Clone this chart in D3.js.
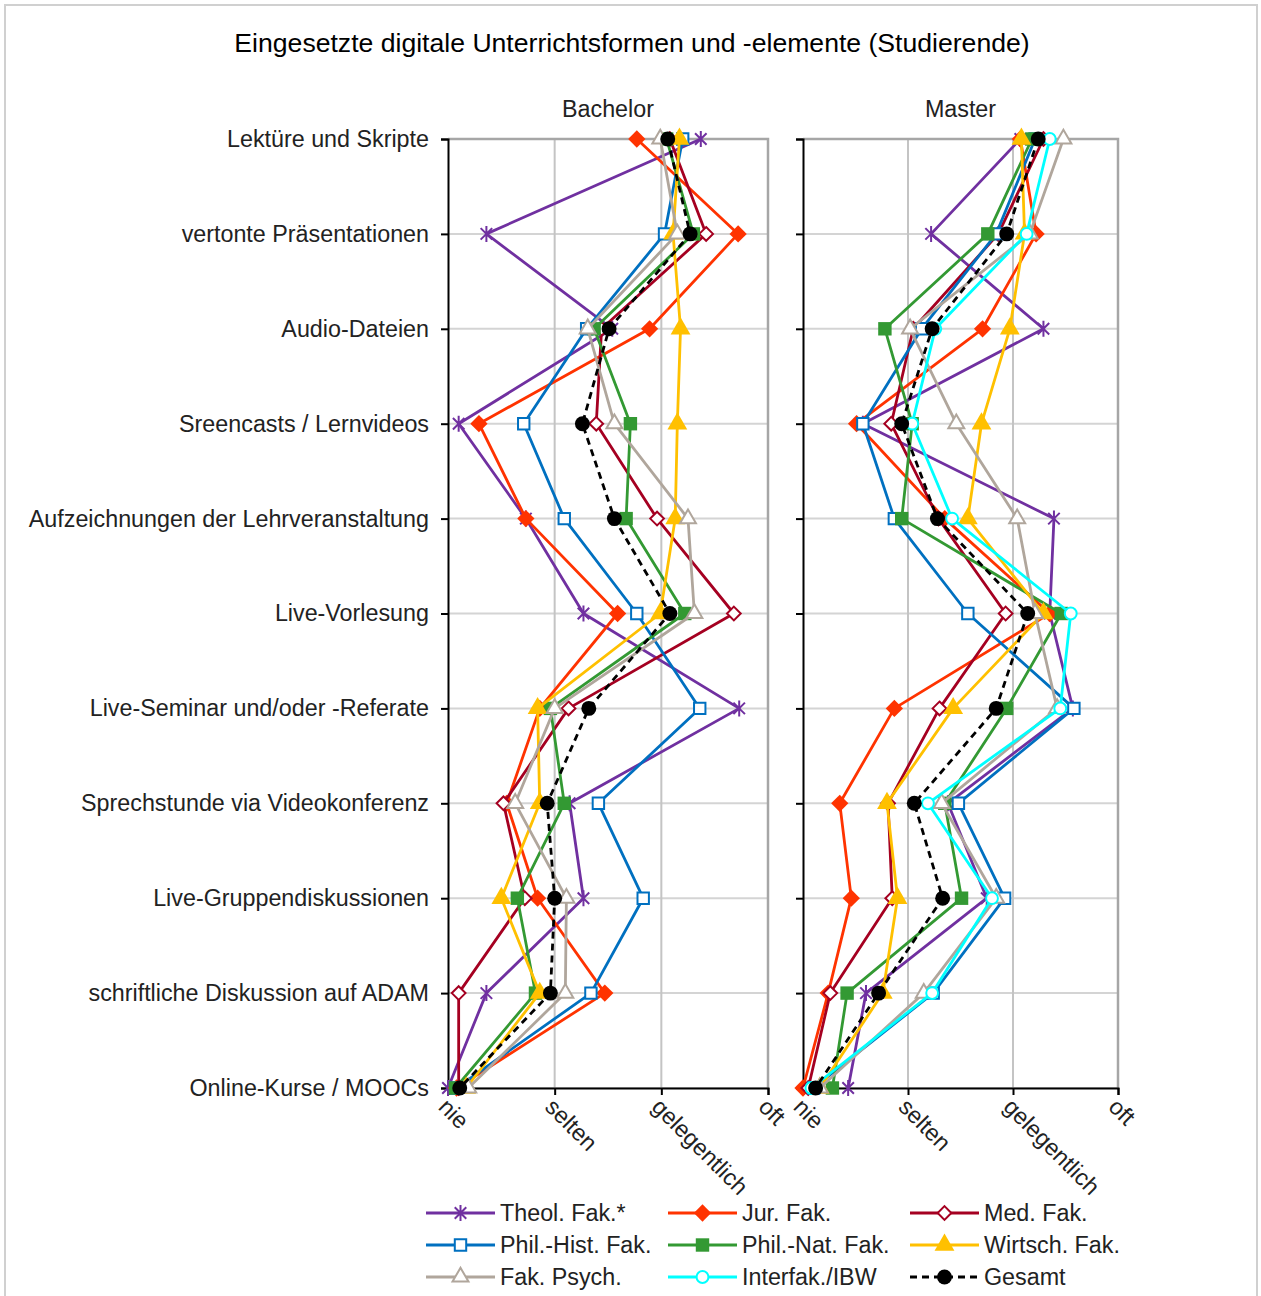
<!doctype html>
<html>
<head>
<meta charset="utf-8">
<script src="https://cdn.jsdelivr.net/npm/d3@7"></script>
<style>
  body { margin: 0; background: #fff; }
  svg { font-family: "Liberation Sans", Arial, sans-serif; }
</style>
</head>
<body>
<svg id="chart" width="1261" height="1296"></svg>
<script>
const categories = [
  "Lektüre und Skripte", "vertonte Präsentationen", "Audio-Dateien",
  "Sreencasts / Lernvideos", "Aufzeichnungen der Lehrveranstaltung",
  "Live-Vorlesung", "Live-Seminar und/oder -Referate",
  "Sprechstunde via Videokonferenz", "Live-Gruppendiskussionen",
  "schriftliche Diskussion auf ADAM", "Online-Kurse / MOOCs"
];
const levels = ["nie", "selten", "gelegentlich", "oft"];
const seriesNames = ["Theol. Fak.*", "Jur. Fak.", "Med. Fak.", "Phil.-Hist. Fak.",
  "Phil.-Nat. Fak.", "Wirtsch. Fak.", "Fak. Psych.", "Interfak./IBW", "Gesamt"];

// Bachelor (1 = nie ... 4 = oft)
const theolBachelor    = [3.37, 1.36, 2.54, 1.10, 1.73, 2.27, 3.73, 2.14, 2.27, 1.36, 1.00];
const jurBachelor      = [2.77, 3.72, 2.89, 1.29, 1.73, 2.59, 1.86, 1.55, 1.84, 2.47, 1.08];
const medBachelor      = [3.08, 3.42, 2.44, 2.39, 2.96, 3.68, 2.13, 1.52, 1.72, 1.10, 1.10];
const philHistBachelor = [3.20, 3.03, 2.30, 1.71, 2.09, 2.77, 3.36, 2.41, 2.83, 2.34, 1.08];
const philNatBachelor  = [3.05, 3.30, 2.37, 2.71, 2.67, 3.22, 1.96, 2.09, 1.65, 1.82, 1.07];
const wirtschBachelor  = [3.17, 3.11, 3.18, 3.15, 3.13, 2.99, 1.84, 1.86, 1.50, 1.86, 1.17];
const psychBachelor    = [2.99, 3.15, 2.31, 2.56, 3.25, 3.31, 2.00, 1.63, 2.11, 2.10, 1.19];
const gesamtBachelor   = [3.06, 3.27, 2.51, 2.26, 2.56, 3.08, 2.32, 1.93, 2.00, 1.96, 1.11];

// Master
const theolMaster    = [3.07, 2.22, 3.29, 1.57, 3.39, 3.35, 3.57, 2.38, 2.75, 1.60, 1.43];
const jurMaster      = [3.07, 3.22, 2.71, 1.51, 2.35, 3.35, 1.87, 1.35, 1.46, 1.24, 1.00];
const medMaster      = [3.29, 2.86, 2.05, 1.84, 2.29, 2.93, 2.30, 1.81, 1.85, 1.26, 1.05];
const philHistMaster = [3.21, 2.84, 2.13, 1.57, 1.87, 2.57, 3.58, 2.48, 2.92, 2.24, 1.10];
const philNatMaster  = [3.18, 2.76, 1.78, 2.04, 1.94, 3.46, 2.94, 2.35, 2.51, 1.42, 1.28];
const wirtschMaster  = [3.08, 3.11, 2.97, 2.70, 2.57, 3.29, 2.43, 1.80, 1.90, 1.76, 1.16];
const psychMaster    = [3.48, 3.16, 2.02, 2.46, 3.04, 3.21, 3.42, 2.32, 2.84, 2.15, 1.16];
const interfakMaster = [3.35, 3.13, 2.26, 2.04, 2.42, 3.55, 3.45, 2.19, 2.80, 2.23, 1.08];
const gesamtMaster   = [3.24, 2.94, 2.23, 1.94, 2.28, 3.14, 2.84, 2.06, 2.33, 1.72, 1.12];

const bachelorValues = [theolBachelor, jurBachelor, medBachelor, philHistBachelor,
  philNatBachelor, wirtschBachelor, psychBachelor, null, gesamtBachelor];
const masterValues = [theolMaster, jurMaster, medMaster, philHistMaster,
  philNatMaster, wirtschMaster, psychMaster, interfakMaster, gesamtMaster];

const colors = ["#7030a0", "#ff3300", "#a50021", "#0070c0", "#339933",
  "#ffc000", "#b0a69c", "#00ffff", "#000000"];
const markers = ["star", "diamond", "diamondOpen", "squareOpen", "square",
  "triangle", "triangleOpen", "circleOpen", "circle"];

const svg = d3.select("#chart");

// outer frame
svg.append("rect").attr("x", 5).attr("y", 5).attr("width", 1252).attr("height", 1300)
  .attr("fill", "#fff").attr("stroke", "#d0d0d0").attr("stroke-width", 2);

svg.append("text").attr("x", 632).attr("y", 52).attr("text-anchor", "middle")
  .attr("font-size", 26.6).attr("fill", "#000")
  .text("Eingesetzte digitale Unterrichtsformen und -elemente (Studierende)");

const y = d3.scalePoint().domain(categories).range([139, 1088]);

function starPath(r) {
  const d = r * 0.72;
  return `M${-d},${-d}L${d},${d}M${-d},${d}L${d},${-d}M0,${-r}L0,${r}`;
}

function drawMarker(g, type, color, x, yy) {
  let sel;
  if (type === "star") {
    sel = g.append("path").attr("d", starPath(8)).attr("fill", "none")
      .attr("stroke", color).attr("stroke-width", 2);
  } else {
    const sym = {
      diamond: [d3.symbolDiamond2, 190], diamondOpen: [d3.symbolDiamond2, 120],
      square: [d3.symbolSquare, 180], squareOpen: [d3.symbolSquare, 130],
      triangle: [d3.symbolTriangle, 170], triangleOpen: [d3.symbolTriangle, 110],
      circle: [d3.symbolCircle, 175], circleOpen: [d3.symbolCircle, 110]
    }[type];
    const open = type.endsWith("Open");
    sel = g.append("path").attr("d", d3.symbol(sym[0], sym[1])())
      .attr("fill", open ? "#fff" : color)
      .attr("stroke", color).attr("stroke-width", open ? 2 : 0);
  }
  sel.attr("transform", `translate(${x},${yy})`);
}

function panel(title, x0, x1, valuesList, withLabels) {
  const x = d3.scaleLinear().domain([1, 4]).range([x0, x1]);
  const g = svg.append("g");

  g.append("text").attr("x", (x0 + x1) / 2).attr("y", 117).attr("text-anchor", "middle")
    .attr("font-size", 23.3).attr("fill", "#222").text(title);

  // gridlines
  g.append("g").selectAll("line").data(categories).join("line")
    .attr("x1", x0).attr("x2", x1).attr("y1", d => y(d)).attr("y2", d => y(d))
    .attr("stroke", "#d4d4d4").attr("stroke-width", 2);
  g.append("g").selectAll("line").data([2, 3]).join("line")
    .attr("x1", d => x(d)).attr("x2", d => x(d)).attr("y1", 139).attr("y2", 1088)
    .attr("stroke", "#c4c4c4").attr("stroke-width", 2);
  // right and top border
  g.append("path").attr("d", `M${x0},139H${x1}V1088`).attr("fill", "none")
    .attr("stroke", "#a6a6a6").attr("stroke-width", 2.5);

  // y axis
  const yAxis = g.append("g").attr("transform", `translate(${x0},0)`)
    .call(d3.axisLeft(y).tickSize(7).tickPadding(12).tickFormat(withLabels ? null : ""));
  yAxis.select(".domain").attr("stroke", "#000").attr("stroke-width", 2);
  yAxis.selectAll(".tick line").attr("stroke", "#000").attr("stroke-width", 2);
  yAxis.selectAll(".tick text").attr("font-size", 23.3).attr("fill", "#222")
    .attr("font-family", "Liberation Sans, Arial, sans-serif").attr("x", -19);

  // x axis
  const xAxis = g.append("g").attr("transform", "translate(0,1088)")
    .call(d3.axisBottom(x).tickValues([1, 2, 3, 4]).tickSize(7)
      .tickFormat((d, i) => levels[i]));
  xAxis.select(".domain").attr("stroke", "#000").attr("stroke-width", 2);
  xAxis.selectAll(".tick line").attr("stroke", "#000").attr("stroke-width", 2);
  xAxis.selectAll(".tick text").attr("font-size", 23.3).attr("fill", "#222")
    .attr("font-family", "Liberation Sans, Arial, sans-serif")
    .attr("text-anchor", "start").attr("x", 0).attr("y", 0).attr("dy", "0.75em")
    .attr("transform", "translate(1,8) rotate(45)");

  // series
  valuesList.forEach((vals, s) => {
    if (!vals) return;
    const pts = vals.map((v, i) => [x(v), y(categories[i])]);
    g.append("path").attr("d", d3.line()(pts)).attr("fill", "none")
      .attr("stroke", colors[s]).attr("stroke-width", 2.8)
      .attr("stroke-dasharray", s === 8 ? "7,5" : null)
      .attr("stroke-linejoin", "round");
    pts.forEach(p => drawMarker(g, markers[s], colors[s], p[0], p[1]));
  });
}

panel("Bachelor", 448, 768, bachelorValues, true);
panel("Master", 803, 1118, masterValues, false);

// legend
const legend = svg.append("g");
seriesNames.forEach((name, i) => {
  const col = i % 3, row = Math.floor(i / 3);
  const lx = 426 + col * 242, ly = 1213 + row * 32;
  const item = legend.append("g");
  item.append("line").attr("x1", lx).attr("x2", lx + 69).attr("y1", ly).attr("y2", ly)
    .attr("stroke", colors[i]).attr("stroke-width", 2.8)
    .attr("stroke-dasharray", i === 8 ? "7,5" : null);
  drawMarker(item, markers[i], colors[i], lx + 34.5, ly);
  item.append("text").attr("x", lx + 74).attr("y", ly).attr("dy", "0.35em")
    .attr("font-size", 23.3).attr("fill", "#222").text(name);
});
</script>
</body>
</html>
